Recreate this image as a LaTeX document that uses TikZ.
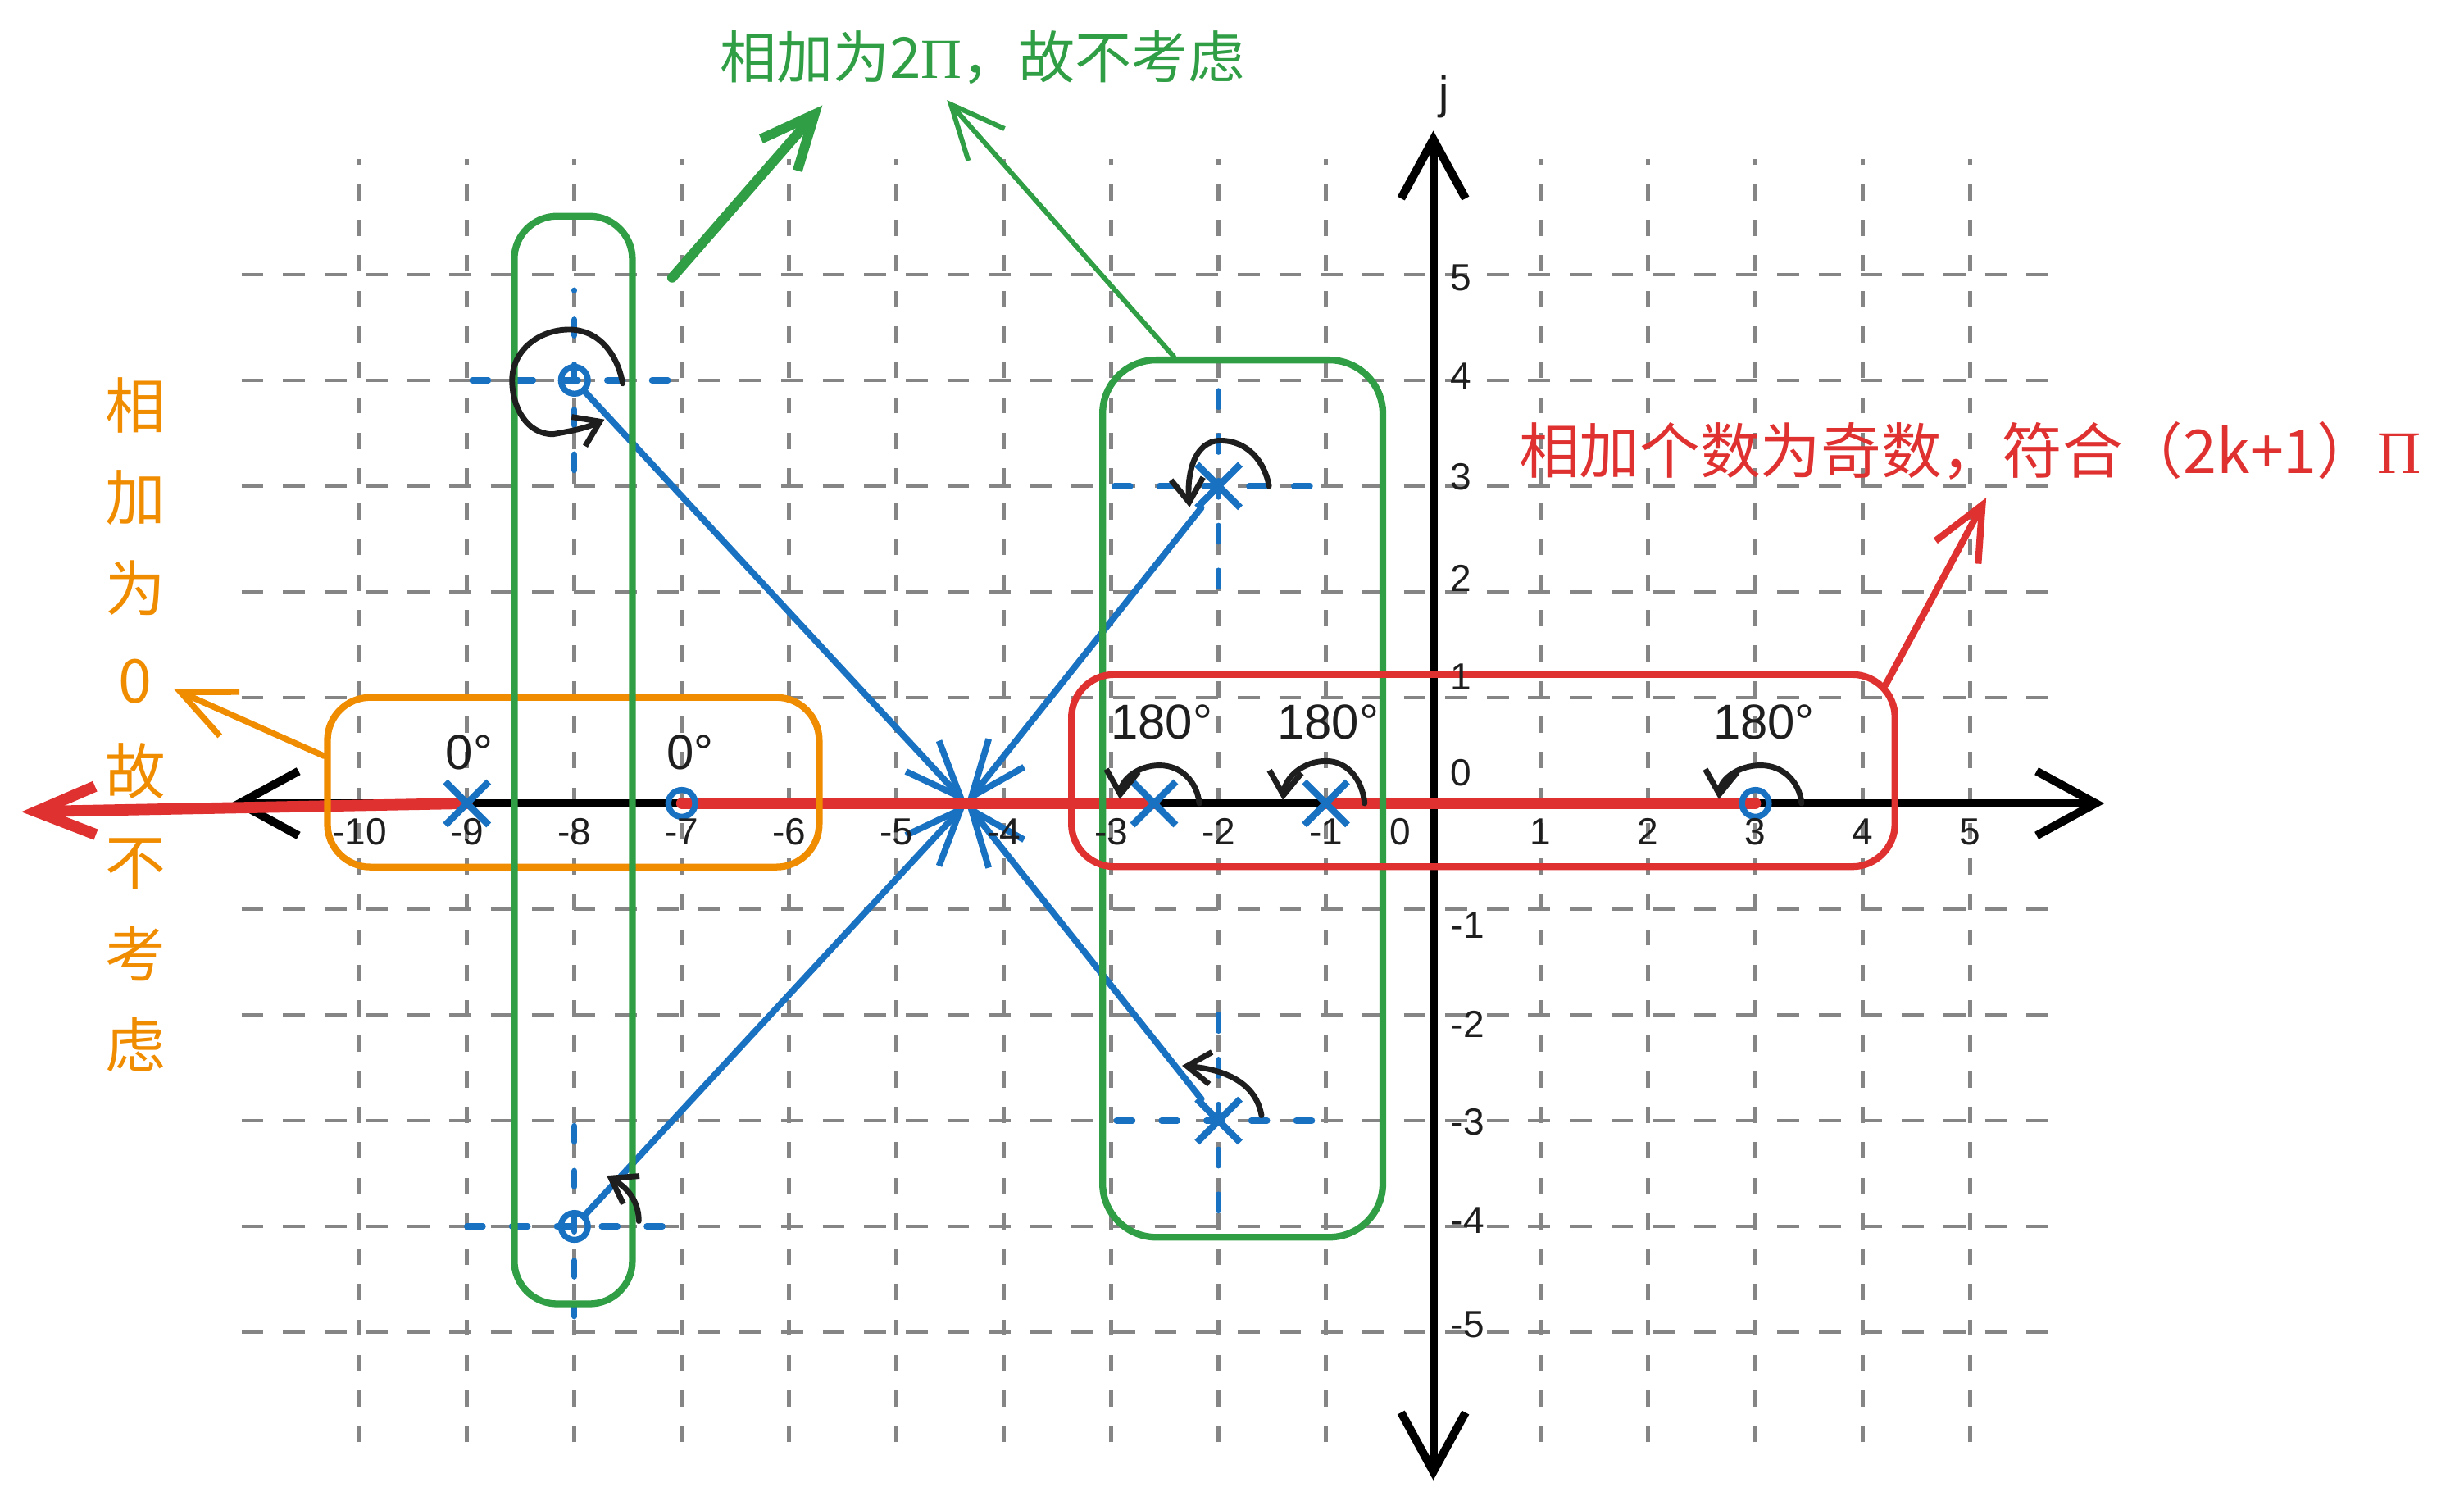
\documentclass[tikz,border=0pt]{standalone}
\usepackage{fontspec}
\setmainfont{Liberation Sans}
\newfontfamily\cjkfont{Noto Sans CJK SC}
\newfontfamily\pifont{Liberation Serif}
\usetikzlibrary{positioning, arrows.meta, shapes.misc, backgrounds, calc}

\definecolor{skblue}{HTML}{1971C2}
\definecolor{skgreen}{HTML}{2F9E44}
\definecolor{skred}{HTML}{E03131}
\definecolor{skorange}{HTML}{F08C00}
\definecolor{gridgray}{HTML}{858585}
\definecolor{ink}{HTML}{1E1E1E}

\begin{document}
\begin{tikzpicture}[
    y=0.985cm,
    gridv/.style={draw=gridgray, line width=1pt, dash pattern=on 4.3pt off 5.1pt},
    gridh/.style={draw=gridgray, line width=1pt, dash pattern=on 5.8pt off 5.2pt},
    axis/.style={draw=black, line width=2.2pt, {Straight Barb[length=0.55cm, width=0.6cm]}-{Straight Barb[length=0.55cm, width=0.6cm]}},
    locus/.style={draw=skred, line width=3pt, line cap=round},
    hair/.style={draw=skblue, line width=1.6pt, line cap=round, dash pattern=on 4.2pt off 7.7pt},
    vec/.style={draw=skblue, line width=1.7pt, line cap=round, -{Straight Barb[length=0.52cm, width=0.42cm]}},
    pole/.style={draw=skblue, cross out, line width=1.8pt, minimum size=0.34cm, inner sep=0pt},
    zero/.style={draw=skblue, circle, line width=1.6pt, minimum size=0.25cm, inner sep=0pt},
    angarr/.style={draw=ink, line width=1.5pt, line cap=round, -{Straight Barb[length=0.22cm, width=0.3cm]}},
    grp/.style={draw, rounded corners=0.4cm, line width=1.8pt, inner sep=0pt},
    note/.style={line width=1.6pt, line cap=round, -{Straight Barb[length=0.5cm, width=0.45cm]}},
    num/.style={font=\fontsize{10pt}{12pt}\selectfont, text=ink, inner sep=1pt},
    deg/.style={font=\fontsize{13pt}{15pt}\selectfont, text=ink, inner sep=1pt},
    cjk/.style={font=\fontsize{15pt}{18pt}\selectfont\cjkfont}
]
\useasboundingbox (-13.35,-6.589) rectangle (9.6,7.596);

% poles, zeros and the test point
\coordinate (s) at (-4.35,0);
\node[pole] (p1) at (-9,0) {};
\node[zero] (z1) at (-7,0) {};
\node[zero] (z2) at (-8,4) {};
\node[zero] (z3) at (-8,-4) {};
\node[pole] (p2) at (-2,3) {};
\node[pole] (p3) at (-2,-3) {};
\node[pole] (p4) at (-2.6,0) {};
\node[pole] (p5) at (-1,0) {};
\node[zero] (z4) at (3,0) {};

\begin{scope}[on background layer]
\foreach \gx in {-10,...,5} \draw[gridv] (\gx,-6.04) -- (\gx,6.09);
\foreach \gy in {-5,...,5} \draw[gridh] (-11.1,\gy) -- (5.9,\gy);

\coordinate (xlo) at (-11.2,0);
\coordinate (xhi) at (6.25,0);
\coordinate (ylo) at (0,-6.4);
\coordinate (yhi) at (0,6.36);
\draw[axis] (xlo) -- (xhi);
\draw[axis] (ylo) -- (yhi);

% crosshairs of the complex pairs
\draw[hair] (-8.95,4) -- (-7.05,4);
\draw[hair] (-8,3.15) -- (-8,4.85);
\draw[hair] (-9.0,-4) -- (-7.17,-4);
\draw[hair] (-8,-3.05) -- (-8,-4.85);
\draw[hair] (-2.97,3) -- (-1.1,3);
\draw[hair] (-2,2.05) -- (-2,4.0);
\draw[hair] (-2.95,-3) -- (-1.08,-3);
\draw[hair] (-2,-2.0) -- (-2,-3.9);

\draw[vec] (z2) -- (s);
\draw[vec] (z3) -- (s);
\draw[vec] (p2) -- (s);
\draw[vec] (p3) -- (s);

% locus on the real axis
\coordinate (lend) at (-13.15,-0.08);
\draw[locus, -{Straight Barb[length=0.55cm, width=0.45cm]}] (p1.center) -- (lend);
\draw[locus] (z1.center) -- (p4.center);
\draw[locus] (p5.center) -- (z4.center);
\end{scope}

% groups
\node[grp, draw=skorange, minimum width=4.58cm, minimum height=1.58cm] (g0) at (-8.01,0.2) {};
\node[grp, draw=skgreen, minimum width=1.1cm, minimum height=10.13cm] (g1) at (-8.01,0.41) {};
\node[grp, draw=skgreen, rounded corners=0.5cm, minimum width=2.61cm, minimum height=8.17cm] (g2) at (-1.775,0.045) {};
\node[grp, draw=skred, minimum width=7.67cm, minimum height=1.79cm] (g3) at (0.465,0.31) {};

% angle arcs
\draw[angarr] (-7.55,3.97) to[out=100,in=0] (-8.05,4.48) to[out=180,in=90] (-8.58,4.0)
      to[out=-90,in=180] (-8.2,3.49) to[out=10,in=205] (-7.72,3.63);
\draw[angarr] (-7.4,-3.95) to[out=90,in=-30] (-7.7,-3.52);
\draw[angarr] (-1.53,3.0) to[out=100,in=0] (-1.98,3.43) to[out=180,in=95] (-2.27,2.8);
\draw[angarr] (-1.6,-2.95) to[out=100,in=-5] (-2.34,-2.48);
\draw[angarr] (-2.18,0) to[out=95,in=0] (-2.55,0.36) to[out=180,in=85] (-2.92,0.04);
\draw[angarr] (-0.64,0) to[out=95,in=0] (-1.0,0.4) to[out=180,in=85] (-1.4,0.03);
\draw[angarr] (3.43,0) to[out=95,in=0] (3.05,0.36) to[out=180,in=85] (2.66,0.04);

\node[deg] (d1) at (-8.98,0.48) {0°};
\node[deg] (d2) at (-6.92,0.48) {0°};
\node[deg] (d3) at (-2.53,0.77) {180°};
\node[deg] (d4) at (-0.98,0.77) {180°};
\node[deg] (d5) at (3.08,0.77) {180°};

% axis numbers
\foreach \gx in {-10,...,-1,1,2,3,4,5}
  \node[num] (xn\gx) at (\gx,-0.27) {\gx};
\node[num] (xn0) at (-0.31,-0.27) {0};
\foreach \gy/\py in {5/4.97,4/4.04,3/3.09,2/2.13,1/1.2,0/0.29,-1/-1.15,-2/-2.09,-3/-3.01,-4/-3.94,-5/-4.93}
  \node[num, anchor=west] (yn\gy) at (0.12,\py) {\gy};
\node[num, font=\fontsize{12pt}{14pt}\selectfont] (jl) at (0.1,6.68) {j};

% notes
\node[cjk, text=skgreen] (t0) at (-4.2,7.05) {相加为2{\pifont Π}，故不考虑};
\node[cjk, text=skred, font=\fontsize{16pt}{19pt}\selectfont\cjkfont] (t1) at (5.0,3.33)
      {相加个数为奇数，符合（2k+1）{\pifont Π}};
\node[cjk, text=skorange, align=center, font=\fontsize{16pt}{24.2pt}\selectfont\cjkfont] (t2) at (-12.09,0.74)
      {相\\加\\为\\0\\故\\不\\考\\虑};

\coordinate (ob) at (-11.73,1.08);
\draw[note, skorange] (g0.174) -- (ob);
\coordinate (ga) at (-7.09,4.97);
\coordinate (gb) at (-5.69,6.6);
\draw[note, skgreen, line width=2.6pt] (ga) -- (gb);
\coordinate (gc) at ($(g2.north west)!0.26!(g2.north east)$);
\coordinate (gd) at (-4.53,6.65);
\draw[note, skgreen, line width=1.3pt] (gc) -- (gd);
\coordinate (ra) at ([xshift=-0.12cm,yshift=-0.13cm]g3.north east);
\coordinate (rb) at (5.15,2.89);
\draw[note, skred, line width=1.8pt] (ra) -- (rb);
\end{tikzpicture}
\end{document}
